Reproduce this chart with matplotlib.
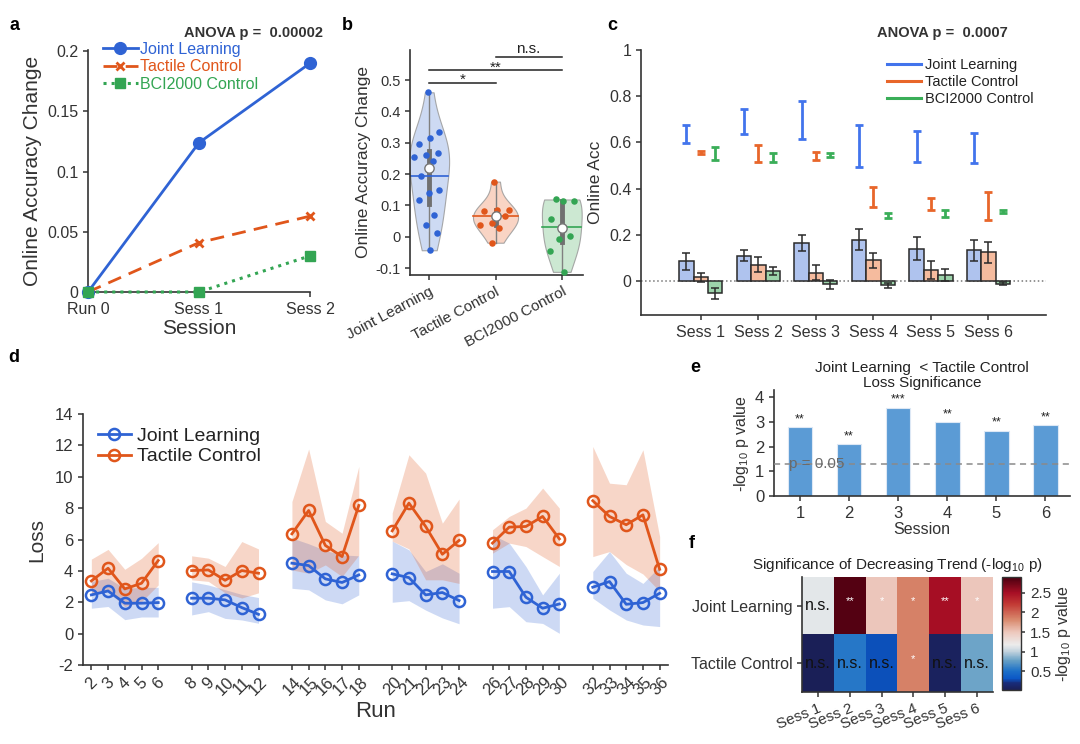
import numpy as np
import matplotlib
matplotlib.use('Agg')
import matplotlib.pyplot as plt
from matplotlib.colors import LinearSegmentedColormap
from matplotlib.ticker import FuncFormatter

plt.rcParams['font.family'] = ['Liberation Sans', 'DejaVu Sans']
plt.rcParams['mathtext.default'] = 'regular'
plt.rcParams['axes.unicode_minus'] = False
plt.rcParams['axes.edgecolor'] = '#333333'
plt.rcParams['axes.linewidth'] = 1.2
plt.rcParams['xtick.color'] = '#333333'
plt.rcParams['ytick.color'] = '#333333'
plt.rcParams['text.color'] = '#222222'
plt.rcParams['axes.labelcolor'] = '#333333'
plt.rcParams['xtick.major.width'] = 1.1
plt.rcParams['ytick.major.width'] = 1.1
plt.rcParams['xtick.major.size'] = 3.5
plt.rcParams['ytick.major.size'] = 3.5

# ------------------------------------------------------------------ data
# panel a
a_sessions = ['Run 0', 'Sess 1', 'Sess 2']
a_joint = [0.0, 0.124, 0.190]
a_tactile = [0.0, 0.041, 0.063]
a_bci = [0.0, 0.0, 0.030]

# panel b
b_groups = ['Joint Learning', 'Tactile Control', 'BCI2000 Control']
b_joint = [0.461, 0.335, 0.314, 0.295, 0.266, 0.261, 0.255, 0.243, 0.194,
           0.149, 0.141, 0.117, 0.071, 0.037, 0.011, -0.043]
b_tactile = [0.176, 0.087, 0.087, 0.083, 0.066, 0.045, 0.036, 0.029, -0.019]
b_bci = [0.119, 0.114, 0.114, 0.056, 0.002, -0.006, -0.045, -0.112]
b_sig_pairs = [(1, 2), (1, 3), (2, 3)]
b_sig_text = ['*', '**', 'n.s.']

# panel c
c_sessions = ['Sess 1', 'Sess 2', 'Sess 3', 'Sess 4', 'Sess 5', 'Sess 6']
c_joint_change = [0.084, 0.109, 0.164, 0.179, 0.140, 0.132]
c_joint_change_err = [0.038, 0.024, 0.035, 0.044, 0.051, 0.044]
c_tactile_change = [0.015, 0.070, 0.036, 0.089, 0.048, 0.124]
c_tactile_change_err = [0.020, 0.033, 0.033, 0.033, 0.038, 0.045]
c_bci_change = [-0.054, 0.041, -0.015, -0.020, 0.025, -0.012]
c_bci_change_err = [0.023, 0.017, 0.020, 0.010, 0.025, 0.007]
c_joint_acc = [0.636, 0.690, 0.696, 0.584, 0.582, 0.577]
c_joint_acc_err = [0.039, 0.055, 0.083, 0.089, 0.069, 0.065]
c_tactile_acc = [0.556, 0.552, 0.540, 0.363, 0.334, 0.323]
c_tactile_acc_err = [0.006, 0.036, 0.017, 0.045, 0.025, 0.061]
c_bci_acc = [0.552, 0.533, 0.545, 0.284, 0.292, 0.302]
c_bci_acc_err = [0.029, 0.020, 0.009, 0.011, 0.014, 0.007]

# panel d
d_runs = [[2, 3, 4, 5, 6], [8, 9, 10, 11, 12], [14, 15, 16, 17, 18],
          [20, 21, 22, 23, 24], [26, 27, 28, 29, 30], [32, 33, 34, 35, 36]]
d_joint_mean = [[2.47, 2.72, 1.94, 1.94, 1.98],
                [2.26, 2.26, 2.15, 1.66, 1.23],
                [4.49, 4.34, 3.49, 3.26, 3.74],
                [3.81, 3.57, 2.47, 2.62, 2.11],
                [3.96, 3.96, 2.32, 1.62, 1.89],
                [2.96, 3.32, 1.87, 1.98, 2.57]]
d_joint_upper = [[3.32, 3.53, 2.89, 2.95, 2.95],
                 [3.30, 3.10, 2.80, 2.50, 2.30],
                 [6.09, 5.73, 5.30, 5.02, 4.96],
                 [5.90, 5.34, 3.96, 4.45, 3.85],
                 [6.30, 5.77, 4.28, 2.47, 3.85],
                 [3.96, 5.23, 3.85, 3.20, 4.28]]
d_joint_lower = [[1.62, 1.73, 0.89, 1.06, 1.06],
                 [1.19, 1.40, 0.97, 0.87, 0.66],
                 [2.89, 2.79, 2.15, 1.90, 2.47],
                 [2.00, 2.10, 1.50, 1.00, 0.63],
                 [1.62, 1.72, 0.76, 0.65, 0.02],
                 [2.26, 1.51, 0.87, 0.55, 0.45]]
d_tactile_mean = [[3.36, 4.17, 2.85, 3.21, 4.66],
                  [4.02, 4.06, 3.40, 4.02, 3.85],
                  [6.36, 7.85, 5.62, 4.91, 8.17],
                  [6.55, 8.32, 6.83, 5.06, 5.94],
                  [5.77, 6.79, 6.83, 7.47, 6.04],
                  [8.47, 7.47, 6.94, 7.57, 4.10]]
d_tactile_upper = [[4.75, 5.37, 4.10, 4.80, 5.80],
                   [4.96, 4.81, 4.28, 5.87, 5.40],
                   [8.42, 11.77, 7.15, 6.40, 10.66],
                   [7.70, 11.40, 10.23, 7.04, 8.58],
                   [6.62, 7.47, 8.00, 9.28, 8.00],
                   [11.93, 9.59, 9.49, 11.72, 6.19]]
d_tactile_lower = [[2.58, 2.68, 1.72, 2.04, 3.10],
                   [3.43, 3.33, 2.60, 2.27, 2.60],
                   [4.06, 3.85, 4.38, 3.64, 5.00],
                   [5.90, 5.40, 3.43, 3.43, 3.20],
                   [5.13, 5.77, 5.55, 4.91, 4.28],
                   [4.91, 5.23, 4.40, 3.80, 2.70]]

# panel e
e_sessions = [1, 2, 3, 4, 5, 6]
e_values = [2.79, 2.11, 3.59, 2.99, 2.65, 2.88]
e_stars = ['**', '**', '***', '**', '**', '**']
e_threshold = 1.301

# panel f
f_rows = ['Joint Learning', 'Tactile Control']
f_cols = ['Sess 1', 'Sess 2', 'Sess 3', 'Sess 4', 'Sess 5', 'Sess 6']
f_values = [[1.15, 2.85, 1.50, 1.85, 2.50, 1.50],
            [0.05, 0.55, 0.30, 1.85, 0.08, 0.80]]
f_labels = [['n.s.', '**', '*', '*', '**', '*'],
            ['n.s.', 'n.s.', 'n.s.', '*', 'n.s.', 'n.s.']]

# ------------------------------------------------------------------ style
BLUE = '#2F63D4'
ORANGE = '#E0561B'
GREEN = '#33A553'
BLUE_BAR = '#AFC3EE'
ORANGE_BAR = '#F5BB9E'
GREEN_BAR = '#9CD3AA'
BLUE_EB = '#4274EC'
ORANGE_EB = '#E8662A'
GREEN_EB = '#3AAE58'

W, H = 1080, 744


def box(l, t, r, b):
    return [l / W, 1 - b / H, (r - l) / W, (b - t) / H]


def clean(ax):
    ax.spines['top'].set_visible(False)
    ax.spines['right'].set_visible(False)


gfmt = FuncFormatter(lambda v, p: f'{v:g}')

fig = plt.figure(figsize=(W / 100, H / 100), dpi=100)
fig.patch.set_facecolor('white')

axA = fig.add_axes(box(88, 50, 310, 292))
axB = fig.add_axes(box(410, 50, 583, 275))
axC = fig.add_axes(box(641, 50, 1046, 315))
axD = fig.add_axes(box(83, 414, 668, 665))
axE = fig.add_axes(box(774, 390, 1070, 496))
axF = fig.add_axes(box(802, 577, 993, 692))
axCB = fig.add_axes(box(1002, 577, 1021, 690))

# ------------------------------------------------------------------ panel a
xa = np.arange(len(a_sessions))
axA.plot(xa, a_joint, '-o', color=BLUE, lw=2, ms=8.5, clip_on=False,
         zorder=3, label='Joint Learning')
axA.plot(xa, a_tactile, '--x', color=ORANGE, lw=2, ms=6, mew=2,
         dashes=(5, 3), clip_on=False, zorder=3, label='Tactile Control')
axA.plot(xa, a_bci, ':s', color=GREEN, lw=2.2, ms=7, clip_on=False,
         zorder=4, label='BCI2000 Control')
axA.set_xlim(0, 2)
axA.set_ylim(0, 0.201)
axA.set_yticks([0, 0.05, 0.1, 0.15, 0.2])
axA.yaxis.set_major_formatter(gfmt)
axA.set_xticks(xa)
axA.set_xticklabels(a_sessions)
axA.tick_params(labelsize=11.5)
axA.set_ylabel('Online Accuracy Change', fontsize=15, labelpad=4)
axA.set_xlabel('Session', fontsize=15, labelpad=2)
clean(axA)
leg = axA.legend(loc='upper left', bbox_to_anchor=(0.06, 1.04), frameon=False,
                 fontsize=11.5, handlelength=2.2, handletextpad=0.15,
                 labelspacing=0.15, borderaxespad=0, borderpad=0.1)
for t, l in zip(leg.get_texts(), leg.get_lines()):
    t.set_color(l.get_color())
fig.text(254 / W, 1 - 33 / H, 'ANOVA p =  0.00002', ha='center', va='center',
         fontsize=10.5, weight='bold', color='#333333')

# ------------------------------------------------------------------ panel b


def kde(vals, grid):
    v = np.asarray(vals, float)
    bw = 1.06 * np.std(v, ddof=1) * len(v) ** -0.2
    return np.exp(-0.5 * ((grid[:, None] - v[None, :]) / bw) ** 2).sum(1)


b_data = [b_joint, b_tactile, b_bci]
b_cols = [BLUE, ORANGE, GREEN]
b_fill = ['#C5D4F2', '#F8CDBA', '#C3E5CB']
b_width = [0.30, 0.34, 0.30]
for i, (vals, col, fc, hwmax) in enumerate(zip(b_data, b_cols, b_fill, b_width)):
    c = i + 1
    v = np.asarray(vals, float)
    grid = np.linspace(v.min(), v.max(), 200)
    dens = kde(v, grid)
    hw = dens / dens.max() * hwmax
    axB.fill_betweenx(grid, c - hw, c + hw, facecolor=fc, edgecolor='#9a9a9a',
                      lw=0.8, alpha=0.85, zorder=1)
    # jittered points (deterministic golden-ratio sequence)
    jit = ((np.arange(len(v)) * 0.618034 + 0.3) % 1.0) * 2 - 1
    hw_pts = np.interp(v, grid, hw)
    axB.scatter(c + jit * hw_pts * 0.8, v, s=22, color=col, zorder=3,
                linewidths=0)
    q1, med, q3 = np.percentile(v, [25, 50, 75])
    axB.plot([c, c], [v.min(), v.max()], color='#808080', lw=1, zorder=2)
    axB.plot([c, c], [q1, q3], color='#707070', lw=3.5, zorder=2)
    mean = v.mean()
    hw_mean = np.interp(mean, grid, hw)
    axB.plot([c - hw_mean, c + hw_mean], [mean, mean], color=col, lw=1.2,
             zorder=2)
    axB.scatter([c], [med], s=45, color='white', edgecolors='#777777',
                linewidths=1, zorder=4)

sig_y = [0.491, 0.532, 0.574]
for (p, q), txt, yy in zip(b_sig_pairs, b_sig_text, sig_y):
    axB.plot([p, q], [yy, yy], color='#222222', lw=1.1, clip_on=False)
    if txt.startswith('*'):
        axB.text((p + q) / 2, yy - 0.004, txt, ha='center', va='baseline',
                 fontsize=11)
    else:
        axB.text((p + q) / 2, yy + 0.003, txt, ha='center', va='bottom',
                 fontsize=11)
axB.set_xlim(0.71, 3.32)
axB.set_ylim(-0.122, 0.596)
axB.set_yticks([-0.1, 0, 0.1, 0.2, 0.3, 0.4, 0.5])
axB.yaxis.set_major_formatter(gfmt)
axB.set_xticks([1, 2, 3])
axB.set_xticklabels(b_groups, rotation=28, ha='right', rotation_mode='anchor')
axB.tick_params(labelsize=11)
axB.tick_params(axis='y', labelsize=10.5)
axB.set_ylabel('Online Accuracy Change', fontsize=12.5, labelpad=3)
clean(axB)

# ------------------------------------------------------------------ panel c
xc = np.arange(1, len(c_sessions) + 1)
bw = 0.25
groups = [
    (c_joint_change, c_joint_change_err, c_joint_acc, c_joint_acc_err,
     BLUE_BAR, BLUE_EB, 'Joint Learning', -bw),
    (c_tactile_change, c_tactile_change_err, c_tactile_acc, c_tactile_acc_err,
     ORANGE_BAR, ORANGE_EB, 'Tactile Control', 0.0),
    (c_bci_change, c_bci_change_err, c_bci_acc, c_bci_acc_err,
     GREEN_BAR, GREEN_EB, 'BCI2000 Control', bw),
]
axC.axhline(0, color='#777777', ls=':', lw=1.1, zorder=1)
for chg, chg_err, acc, acc_err, fc, ec, lab, off in groups:
    axC.bar(xc + off, chg, width=bw, color=fc, edgecolor='#2a2a2a', lw=1.1,
            zorder=2)
    axC.errorbar(xc + off, chg, yerr=chg_err, fmt='none', ecolor='#2a2a2a',
                 elinewidth=1.1, capsize=2.8, capthick=1.1, zorder=3)
    axC.errorbar(xc + off, acc, yerr=acc_err, fmt='none', ecolor=ec,
                 elinewidth=2, capsize=2.8, capthick=2, zorder=3)
    axC.plot([], [], color=ec, lw=2.2, label=lab)
axC.set_xlim(-0.04, 7.0)
axC.set_ylim(-0.148, 1.0)
axC.set_yticks([0, 0.2, 0.4, 0.6, 0.8, 1.0])
axC.yaxis.set_major_formatter(gfmt)
axC.set_xticks(xc)
axC.set_xticklabels(c_sessions)
axC.tick_params(labelsize=11.5)
axC.set_ylabel('Online Acc', fontsize=12.5, labelpad=4)
clean(axC)
axC.legend(loc='upper left', bbox_to_anchor=(0.605, 0.975), frameon=False,
           fontsize=10.5, handlelength=2.3, handletextpad=0.25,
           labelspacing=0.2, borderaxespad=0, borderpad=0.1)
fig.text(942 / W, 1 - 33 / H, 'ANOVA p =  0.0007', ha='center', va='center',
         fontsize=10.5, weight='bold', color='#333333')

# ------------------------------------------------------------------ panel d
for k, runs in enumerate(d_runs):
    axD.fill_between(runs, d_joint_lower[k], d_joint_upper[k], color=BLUE,
                     alpha=0.24, lw=0, zorder=1)
    axD.fill_between(runs, d_tactile_lower[k], d_tactile_upper[k],
                     color=ORANGE, alpha=0.24, lw=0, zorder=1)
for k, runs in enumerate(d_runs):
    axD.plot(runs, d_joint_mean[k], '-o', color=BLUE, lw=2, ms=8,
             mfc='none', mew=1.8, zorder=3,
             label='Joint Learning' if k == 0 else None)
    axD.plot(runs, d_tactile_mean[k], '-o', color=ORANGE, lw=2, ms=8,
             mfc='none', mew=1.8, zorder=3,
             label='Tactile Control' if k == 0 else None)
all_runs = [r for rr in d_runs for r in rr]
axD.set_xticks(all_runs)
axD.set_xticklabels([str(r) for r in all_runs], rotation=45, ha='center',
                    va='top')
axD.set_xlim(1.5, 36.5)
axD.set_ylim(-2, 14)
axD.set_yticks(np.arange(-2, 15, 2))
axD.tick_params(labelsize=12)
axD.set_ylabel('Loss', fontsize=15, labelpad=6)
axD.set_xlabel('Run', fontsize=16, labelpad=2)
clean(axD)
axD.legend(loc='upper left', bbox_to_anchor=(0.022, 0.955), frameon=False,
           fontsize=14, handlelength=1.7, handletextpad=0.3,
           labelspacing=0.15, borderaxespad=0, borderpad=0.1)

# ------------------------------------------------------------------ panel e
axE.bar(e_sessions, e_values, width=0.5, color='#5B9BD5', edgecolor='#DDE8F5',
        lw=0.8, zorder=2)
for x, v, s in zip(e_sessions, e_values, e_stars):
    axE.text(x, v + 0.08, s, ha='center', va='bottom', fontsize=9,
             color='#222222')
axE.axhline(e_threshold, color='#8a8a8a', ls=(0, (4, 3)), lw=1.1, zorder=3)
axE.text(0.77, e_threshold, 'p = 0.05', ha='left', va='center', fontsize=11,
         color='#6a6a6a', zorder=4)
axE.set_xlim(0.47, 6.5)
axE.set_ylim(0, 4.3)
axE.set_yticks([0, 1, 2, 3, 4])
axE.set_xticks(e_sessions)
axE.tick_params(labelsize=12)
axE.set_ylabel('-log$_{10}$ p value', fontsize=11.5, labelpad=3)
axE.set_xlabel('Session', fontsize=11.5, labelpad=1)
axE.set_title('Joint Learning  < Tactile Control\nLoss Significance',
              fontsize=11, pad=2, linespacing=1.05, color='#222222')
clean(axE)

# ------------------------------------------------------------------ panel f
cmap = LinearSegmentedColormap.from_list('sig', [
    (0.00, '#1B1F55'), (0.06, '#182C7A'), (0.10, '#0B57C6'),
    (0.17, '#1E72C8'), (0.26, '#66A0C6'), (0.34, '#C2D3DE'),
    (0.40, '#ECECEC'), (0.51, '#EDC9BE'), (0.62, '#D98A6E'),
    (0.76, '#C23A35'), (0.86, '#A80F25'), (1.00, '#4A0010')])
im = axF.imshow(np.array(f_values), cmap=cmap, vmin=0.03, vmax=2.9,
                aspect='auto', interpolation='nearest')
for r in range(len(f_rows)):
    for c in range(len(f_cols)):
        lab = f_labels[r][c]
        if lab == 'n.s.':
            axF.text(c, r, lab, ha='center', va='center', fontsize=11.5,
                     color='#111111')
        else:
            axF.text(c, r - 0.08, lab, ha='center', va='center', fontsize=8,
                     color='white')
axF.set_xticks(range(len(f_cols)))
axF.set_xticklabels(f_cols, rotation=22, ha='right', rotation_mode='anchor')
axF.set_yticks(range(len(f_rows)))
axF.set_yticklabels(f_rows)
axF.tick_params(labelsize=11.5)
axF.tick_params(axis='x', labelsize=11)
for s in ['top', 'right']:
    axF.spines[s].set_visible(False)
axF.set_title('Significance of Decreasing Trend (-log$_{10}$ p)',
              fontsize=11, pad=6, color='#222222')
cb = fig.colorbar(im, cax=axCB)
cb.set_ticks([0.5, 1, 1.5, 2, 2.5])
cb.ax.yaxis.set_major_formatter(gfmt)
cb.ax.tick_params(labelsize=11, length=3)
cb.outline.set_linewidth(1)
cb.set_label('-log$_{10}$ p value', fontsize=11.5, rotation=90, labelpad=2)

# ------------------------------------------------------------------ panel letters
for lab, x, y in [('a', 14, 25), ('b', 347, 26), ('c', 612, 26),
                  ('d', 14, 358), ('e', 695, 367), ('f', 692, 543)]:
    fig.text(x / W, 1 - y / H, lab, ha='center', va='center', fontsize=13,
             weight='bold', color='black')

fig.savefig('out.png', dpi=100, facecolor='white')
